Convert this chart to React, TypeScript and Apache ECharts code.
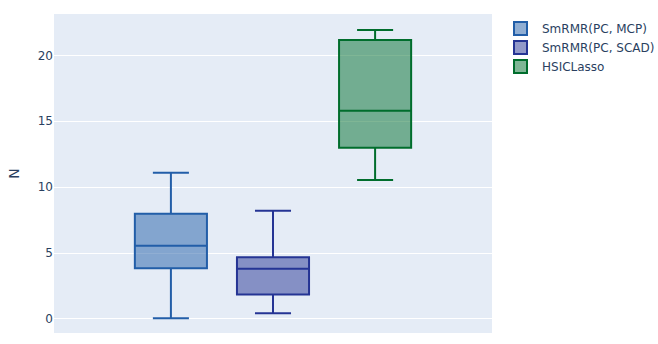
import React, { useEffect, useRef } from "react";
import * as echarts from "echarts";

const seriesNames = ["SmRMR(PC, MCP)", "SmRMR(PC, SCAD)", "HSICLasso"];
const positions = [0, 1, 2];
const mins = [0.03, 0.41, 10.55];
const q1s = [3.83, 1.83, 13.0];
const medians = [5.55, 3.8, 15.82];
const q3s = [7.98, 4.67, 21.2];
const maxs = [11.1, 8.2, 21.95];
const yTicks = [0, 5, 10, 15, 20];

const lineColors = ["#225ea8", "#253494", "#006d2c"];
const fillColors = ["rgba(34,94,168,0.5)", "rgba(37,52,148,0.5)", "rgba(0,109,44,0.5)"];
const FONT = '"DejaVu Sans", Verdana, sans-serif';
const TEXT = "#2a3f5f";

export default function App() {
  const ref = useRef<HTMLDivElement>(null);
  useEffect(() => {
    document.body.style.margin = "0";
    const chart = echarts.init(ref.current!, null, { renderer: "svg" });
    const series = seriesNames.map((name, i) => ({
      type: "custom",
      name,
      data: [[positions[i], mins[i], q1s[i], medians[i], q3s[i], maxs[i]]],
      encode: { x: 0, y: [1, 2, 3, 4, 5] },
      itemStyle: { color: fillColors[i], borderColor: lineColors[i] },
      renderItem: (params: any, api: any) => {
        const x = api.value(0);
        const vMin = api.value(1);
        const vQ1 = api.value(2);
        const vMed = api.value(3);
        const vQ3 = api.value(4);
        const vMax = api.value(5);
        const unit = api.size([1, 0])[0];
        const w = unit * 0.706;
        const cw = w / 2;
        const pMin = api.coord([x, vMin]);
        const pQ1 = api.coord([x, vQ1]);
        const pMed = api.coord([x, vMed]);
        const pQ3 = api.coord([x, vQ3]);
        const pMax = api.coord([x, vMax]);
        const cx = pMed[0];
        const stroke = { stroke: lineColors[i], lineWidth: 2, fill: "none" };
        return {
          type: "group",
          children: [
            { type: "line", shape: { x1: cx, y1: pQ3[1], x2: cx, y2: pMax[1] }, style: stroke },
            { type: "line", shape: { x1: cx, y1: pQ1[1], x2: cx, y2: pMin[1] }, style: stroke },
            { type: "line", shape: { x1: cx - cw / 2, y1: pMax[1], x2: cx + cw / 2, y2: pMax[1] }, style: stroke },
            { type: "line", shape: { x1: cx - cw / 2, y1: pMin[1], x2: cx + cw / 2, y2: pMin[1] }, style: stroke },
            {
              type: "rect",
              shape: { x: cx - w / 2, y: pQ3[1], width: w, height: pQ1[1] - pQ3[1] },
              style: { fill: fillColors[i], stroke: lineColors[i], lineWidth: 2 },
            },
            { type: "line", shape: { x1: cx - w / 2, y1: pMed[1], x2: cx + w / 2, y2: pMed[1] }, style: stroke },
          ],
        };
      },
    }));
    chart.setOption({
      animation: false,
      textStyle: { fontFamily: FONT },
      grid: {
        left: 54,
        right: 166,
        top: 14,
        bottom: 11,
        show: true,
        backgroundColor: "#E5ECF6",
        borderWidth: 0,
        outerBoundsMode: "none",
        containLabel: false,
      },
      legend: {
        orient: "vertical",
        left: 513,
        top: 21,
        padding: 0,
        itemWidth: 13,
        itemHeight: 13,
        itemGap: 4,
        textStyle: { color: TEXT, fontSize: 12, fontFamily: FONT, padding: [0, 0, 0, 10], lineHeight: 13 },
        data: seriesNames.map((name, i) => ({
          name,
          icon: "rect",
          itemStyle: { color: fillColors[i], borderColor: lineColors[i], borderWidth: 2 },
        })),
      },
      xAxis: {
        type: "value",
        min: -1.145,
        max: 3.145,
        show: false,
        splitLine: { show: false },
      },
      yAxis: {
        type: "value",
        min: -1.09,
        max: 23.17,
        name: "N",
        nameLocation: "middle",
        nameGap: 33,
        nameTextStyle: { color: TEXT, fontSize: 14, fontFamily: FONT },
        axisLine: { show: false },
        axisTick: { show: false, customValues: yTicks },
        axisLabel: { customValues: yTicks, color: TEXT, fontSize: 12, fontFamily: FONT, margin: 1 },
        splitLine: { show: true, lineStyle: { color: "#ffffff", width: 1 } },
      },
      series,
    });
    return () => chart.dispose();
  }, []);
  return <div ref={ref} style={{ width: 658, height: 344 }} />;
}
